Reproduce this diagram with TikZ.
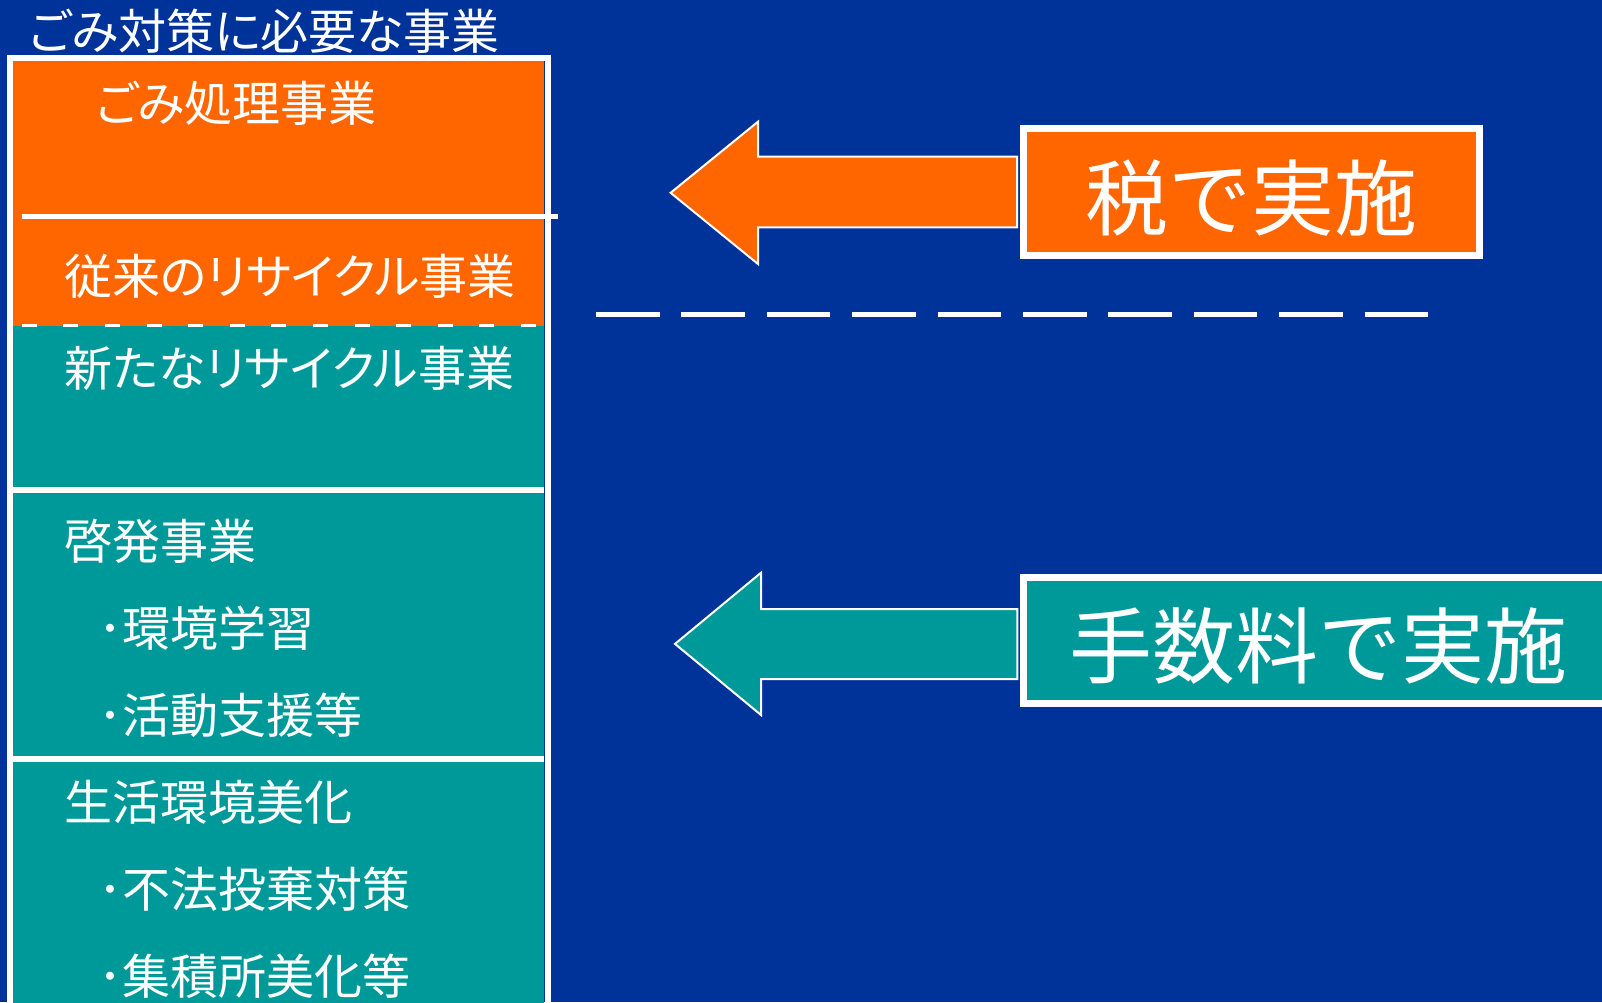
\documentclass[tikz,border=0pt]{standalone}
\usepackage{fontspec}
\newfontfamily\jp{Noto Sans CJK JP}
\newfontfamily\jpp[RawFeature=+palt]{Noto Sans CJK JP}
\definecolor{navy}{HTML}{003399}
\definecolor{orng}{HTML}{FF6600}
\definecolor{tealc}{HTML}{009999}
\begin{document}
\begin{tikzpicture}[x=1pt,y=-1pt,
  lbl/.style={text=white,font=\jpp\fontsize{48}{52}\selectfont,inner sep=0pt,anchor=west},
  big/.style={text=white,font=\jp\fontsize{83}{90}\selectfont,inner sep=0pt},
  arr/.style={draw=white,line width=2pt,line join=miter},
  sep/.style={fill=white},
  frame/.style={draw=white,line width=6pt}]
\useasboundingbox (0,0) rectangle (1602,1002);
\fill[navy] (0,0) rectangle (1602,1002);
% left column
\fill[orng] (13.3,61) rectangle (544,326);
\fill[tealc] (13.3,326) rectangle (544,1020);
\fill[sep] (13.3,487.3) rectangle (544,493.3);
\fill[sep] (13.3,756) rectangle (544,762);
\draw[frame] (10.3,1030) -- (10.3,58) -- (547.7,58) -- (547.7,1030);
\draw[white,line width=5.3pt] (21.7,216.7) -- (558.3,216.7);
\draw[white,line width=2.5pt,dash pattern=on 15pt off 26.6pt] (21.7,325.5) -- (544,325.5);
% texts
\node[lbl] (title) at (29,31) {ごみ対策に必要な事業};
\node[lbl] (gomi) at (95.5,103) {ごみ処理事業};
\node[lbl] (juurai) at (64.5,276) {従来のリサイクル事業};
\node[lbl] (arata) at (64.5,368) {新たなリサイクル事業};
\node[lbl] (keihatsu) at (64.5,541.5) {啓発事業};
\node[lbl] (kankyo) at (98,628) {･環境学習};
\node[lbl] (katsudo) at (98,715) {･活動支援等};
\node[lbl] (seikatsu) at (64.5,802) {生活環境美化};
\node[lbl] (fuho) at (98,889) {･不法投棄対策};
\node[lbl] (shuseki) at (98,976) {･集積所美化等};
% right side
\draw[arr,fill=orng] (670.6,192.8) -- (758,121.7) -- (758,156.7) -- (1017,156.7) -- (1017,227.3) -- (758,227.3) -- (758,264) -- cycle;
\draw[arr,fill=tealc] (675,643.9) -- (761,572.7) -- (761,609) -- (1017.4,609) -- (1017.4,679) -- (761,679) -- (761,715) -- cycle;
\draw[frame,line width=6.5pt,fill=orng] (1023.3,128.3) rectangle (1479.7,255.7);
\draw[frame,line width=6.5pt,fill=tealc] (1640,577.3) -- (1023.7,577.3) -- (1023.7,703.4) -- (1640,703.4);
\node[big] (tax) at (1251,198) {税で実施};
\node[big] (fee) at (1318.5,646) {手数料で実施};
\draw[white,line width=5.6pt,dash pattern=on 63.6pt off 21.8pt] (596,314.5) -- (1428.2,314.5);
\end{tikzpicture}
\end{document}
